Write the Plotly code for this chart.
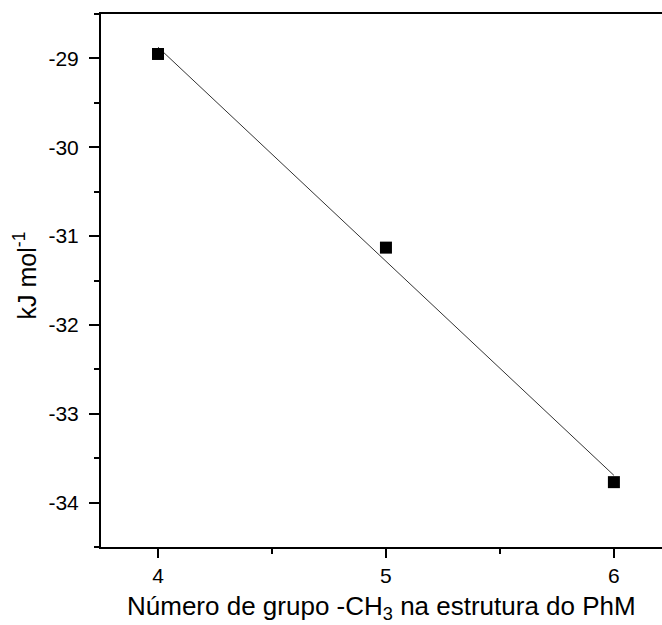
import numpy as np
import plotly.graph_objects as go

# Number of -CH3 groups vs. energy (kJ/mol)
n_ch3 = [4, 5, 6]
energy = [-28.95, -31.13, -33.77]

x_ticks = [4, 5, 6]
y_ticks = [-29, -30, -31, -32, -33, -34]
y_tick_text = ["-29", "-30", "-31", "-32", "-33", "-34"]

# Linear fit through the points
slope, intercept = np.polyfit(n_ch3, energy, 1)
fit_x = [min(n_ch3), max(n_ch3)]
fit_y = [slope * v + intercept for v in fit_x]

FONT = "Liberation Sans, Arial, sans-serif"

fig = go.Figure()
fig.add_trace(go.Scatter(
    x=fit_x, y=fit_y, mode="lines",
    line=dict(color="#333333", width=1),
    showlegend=False, hoverinfo="skip",
))
fig.add_trace(go.Scatter(
    x=n_ch3, y=energy, mode="markers",
    marker=dict(symbol="square", size=12, color="black"),
    showlegend=False,
))

fig.update_layout(
    width=662, height=625,
    margin=dict(l=101, r=0, t=14, b=78),
    paper_bgcolor="white", plot_bgcolor="white",
    font=dict(family=FONT, size=21, color="black"),
    xaxis=dict(
        range=[3.75, 6.211],
        tickvals=x_ticks,
        ticks="outside", ticklen=9, tickwidth=2, tickcolor="black",
        minor=dict(ticks="outside", ticklen=5, tickwidth=2, tickcolor="black", dtick=0.5),
        showline=True, linewidth=2, linecolor="black", mirror=True,
        showgrid=False, zeroline=False,
        tickfont=dict(size=21), ticklabelstandoff=0,
    ),
    yaxis=dict(
        range=[-34.5, -28.5],
        tickvals=y_ticks, ticktext=y_tick_text,
        ticks="outside", ticklen=10, tickwidth=2, tickcolor="black",
        minor=dict(ticks="outside", ticklen=5, tickwidth=2, tickcolor="black", dtick=0.5),
        showline=True, linewidth=2, linecolor="black",
        showgrid=False, zeroline=False,
        tickfont=dict(size=21), ticklabelstandoff=6,
    ),
    annotations=[
        dict(
            text="Número de grupo -CH<sub>3</sub> na estrutura do PhM",
            xref="paper", yref="paper", x=0.5, y=-0.113,
            xanchor="center", yanchor="middle", showarrow=False,
            font=dict(size=26),
        ),
        dict(
            text="kJ mol<sup>-1</sup>",
            xref="paper", yref="paper", x=-0.135, y=0.51,
            xanchor="center", yanchor="middle", showarrow=False,
            textangle=-90, font=dict(size=25),
        ),
    ],
)

fig.write_html("out.html")
